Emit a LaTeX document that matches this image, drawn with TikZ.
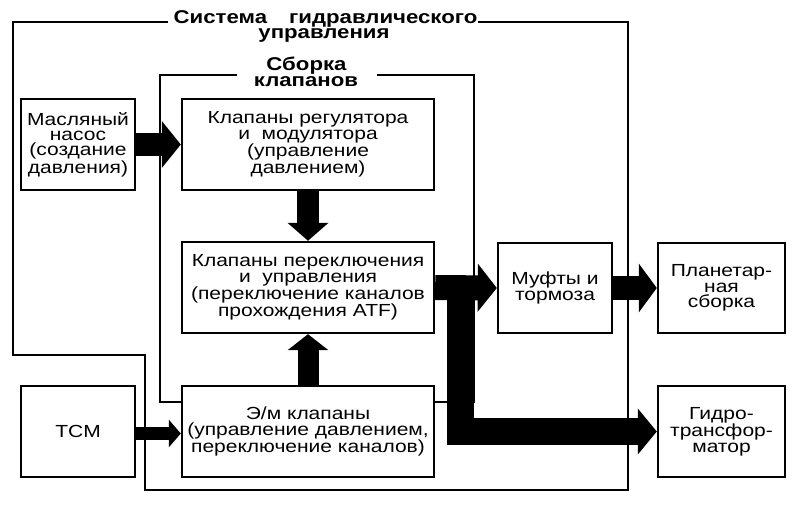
\documentclass[tikz,border=0pt]{standalone}
\usepackage{fontspec}
\setmainfont{Liberation Sans}[FakeStretch=1.2]
\usetikzlibrary{arrows.meta}
\begin{document}
\begin{tikzpicture}[x=1pt,y=-1pt,
  box/.style={draw, fill=white, line width=2.4pt, align=center, inner sep=0pt, font=\fontsize{17.5}{15.3}\selectfont},
  frame/.style={line width=2pt, line join=miter},
  lbl/.style={font=\bfseries\fontsize{18.5}{15}\selectfont, anchor=base, inner sep=0pt},
  fat/.style={line width=#1, line join=miter},
]
\useasboundingbox (0,0) rectangle (800,505);
% frames
\draw[frame] (168,22) -- (13,22) -- (13,355) -- (145,355) -- (145,490) -- (628,490) -- (628,22) -- (478,22);
\draw[frame] (237,75) -- (160,75) -- (160,402) -- (474,402) -- (474,75) -- (377,75);
\node[lbl] (t1) at (325.5,23.5) {Система\hspace{22pt}гидравлического};
\node[lbl] (t2) at (324,39) {управления};
\node[lbl] (s1) at (306.5,71) {Сборка};
\node[lbl] (s2) at (306,87) {клапанов};
% boxes
\node[box, minimum width=114pt, minimum height=91pt] (pump) at (78,144.5) {Масляный\\насос\\(создание\\давления)};
\node[box, minimum width=252pt, minimum height=91pt] (reg) at (308,144.5) {Клапаны регулятора\\и\ \ модулятора\\(управление\\давлением)};
\node[box, minimum width=252pt, minimum height=91pt] (sw) at (308,287.5) {Клапаны переключения\\и\ \ управления\\(переключение каналов\\прохождения ATF)};
\node[box, minimum width=252pt, minimum height=91pt] (em) at (308,431.5) {Э/м клапаны\\(управление давлением,\\переключение каналов)};
\node[box, minimum width=114pt, minimum height=91pt] (tcm) at (78,431.5) {TCM};
\node[box, minimum width=114pt, minimum height=90pt] (muft) at (555,288) {Муфты и\\тормоза};
\node[box, minimum width=127pt, minimum height=90pt] (plan) at (721.5,288) {Планетар-\\ная\\сборка};
\node[box, minimum width=127pt, minimum height=91pt] (gidro) at (721.5,431.5) {Гидро-\\трансфор-\\матор};
% arrows
\draw[fat=23pt, -{Triangle[length=19pt,width=46pt]}] (pump.east) -- (reg.west);
\draw[fat=22pt, -{Triangle[length=18pt,width=40pt]}] (reg.south) -- (sw.north);
\draw[fat=21pt, -{Triangle[length=16pt,width=40pt]}] (em.north) -- (sw.south);
\draw[fat=13pt, -{Triangle[length=12pt,width=27pt]}] ([yshift=-2pt]tcm.east) -- ([yshift=-2pt]em.west);
\draw[fat=25pt, -{Triangle[length=19pt,width=47pt]}] (sw.east) -- (muft.west);
\draw[fat=24pt, -{Triangle[length=18pt,width=48pt]}] (muft.east) -- (plan.west);
\coordinate (br) at ([xshift=25pt]sw.east);
\draw[fat=27pt, -{Triangle[length=19pt,width=45pt]}] (br) |- (gidro.west);
\end{tikzpicture}
\end{document}
